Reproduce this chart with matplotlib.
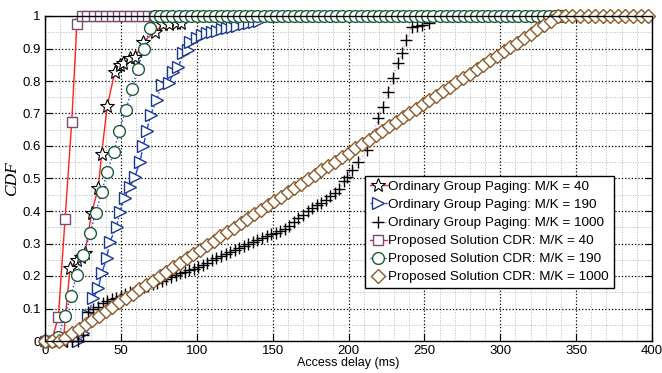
import matplotlib
matplotlib.use("Agg")
import matplotlib.pyplot as plt
from matplotlib.ticker import MultipleLocator, FuncFormatter

plt.rcParams['font.family'] = ['Liberation Sans', 'DejaVu Sans']

# Ordinary Group Paging, M/K = 40
ogp40_x = [12, 16.5, 20.9, 23.5, 26.4, 30.7, 35.1, 37.3, 41.0, 46.1, 49.4, 51.6, 56.0, 59.3,
           64.8, 72.5, 78.0, 82.0, 86.0, 89.5]
ogp40_y = [0.0, 0.224, 0.249, 0.26, 0.27, 0.395, 0.47, 0.575, 0.723, 0.829, 0.849, 0.854, 0.87,
           0.873, 0.921, 0.952, 0.975, 0.976, 0.977, 0.978]

# Ordinary Group Paging, M/K = 190
ogp190_x = [22, 25.3, 28.5, 31.8, 35.1, 37.3, 40.6, 42.8, 47.2, 49.4, 52.5, 56.0, 59.3, 62.6,
            64.8, 67.0, 69.6, 73.6, 76.9, 82.0, 84.6, 87.9, 91.2, 94.5, 95.6, 100.0, 103.7,
            107.0, 110.3, 113.6, 116.9, 120.2, 123.5, 126.8, 131.2, 134.5, 138.0, 141.0]
ogp190_y = [0.0, 0.024, 0.08, 0.131, 0.162, 0.208, 0.254, 0.306, 0.352, 0.398, 0.44, 0.475,
            0.506, 0.552, 0.601, 0.646, 0.695, 0.742, 0.788, 0.795, 0.829, 0.844, 0.885, 0.895,
            0.921, 0.932, 0.942, 0.948, 0.951, 0.954, 0.96, 0.963, 0.966, 0.969, 0.975, 0.978,
            0.981, 0.984]

# Ordinary Group Paging, M/K = 1000
ogp1000_x = [14.3, 17.6, 22.0, 25.3, 28.5, 31.8, 35.1, 38.4, 41, 44, 47, 50, 53, 56, 59, 62,
             65, 68, 71, 74, 77, 80, 83, 86, 89, 92, 95, 98, 101, 104, 107, 110, 113, 116, 119,
             122, 125, 128, 131, 134, 137, 140, 143, 146, 149, 152, 155, 158, 161, 164, 167,
             170, 173, 176, 179, 182, 185, 188, 191, 194, 197, 198.8, 202.2, 206.5, 212.0,
             215.3, 219.7, 223.0, 226.3, 229.3, 232.4, 235.3, 238.2, 242.0, 245.3, 248.5, 252.8]
ogp1000_y = [0, 0, 0, 0.018, 0.09, 0.1, 0.105, 0.116, 0.122, 0.128, 0.133, 0.139, 0.145, 0.150,
             0.155, 0.160, 0.165, 0.170, 0.175, 0.180, 0.185, 0.190, 0.198, 0.204, 0.208,
             0.212, 0.217, 0.222, 0.228, 0.234, 0.240, 0.248, 0.256, 0.262, 0.268, 0.274,
             0.280, 0.286, 0.292, 0.298, 0.305, 0.311, 0.316, 0.322, 0.328, 0.333, 0.337,
             0.346, 0.355, 0.366, 0.378, 0.388, 0.399, 0.408, 0.417, 0.425, 0.434, 0.445,
             0.455, 0.468, 0.492, 0.506, 0.526, 0.552, 0.588, 0.629, 0.685, 0.721, 0.767,
             0.808, 0.854, 0.885, 0.926, 0.967, 0.969, 0.972, 0.977]

# Proposed Solution CDR, M/K = 40
ps40_x = [0, 4.4, 8.8, 13.2, 17.6, 21.0, 24.2, 28, 32, 36, 40, 44, 48, 52, 56, 60, 64, 68, 72, 76]
ps40_y = [0, 0, 0.075, 0.374, 0.673, 0.975, 1, 1, 1, 1, 1, 1, 1, 1, 1, 1, 1, 1, 1, 1]

# Proposed Solution CDR, M/K = 190
ps190_x = [0, 4.4, 8.8, 13.2, 17.0, 20.9, 25.3, 29.7, 33.4, 37.3, 41.0, 45.5, 49.0, 53.2, 57.3,
           61.1, 65.2, 69.2, 72.5,
           76, 80, 84, 88, 92, 96, 100, 104, 108, 112, 116, 120, 124, 128, 132, 136, 140, 144,
           148, 152, 156, 160, 164, 168, 172, 176, 180, 184, 188, 192, 196, 200, 204, 208, 212,
           216, 220, 224, 228, 232, 236, 240, 244, 248, 252, 256, 260, 264, 268, 272, 276, 280,
           284, 288, 292, 296, 300, 304, 308, 312, 316, 320, 324, 328, 332, 336, 340]
ps190_y = [0, 0, 0.013, 0.077, 0.14, 0.203, 0.265, 0.331, 0.395, 0.457, 0.521, 0.583, 0.647,
           0.711, 0.774, 0.836, 0.898, 0.962, 1.0,
           1, 1, 1, 1, 1, 1, 1, 1, 1, 1, 1, 1, 1, 1, 1, 1, 1, 1, 1, 1, 1, 1, 1, 1, 1, 1, 1, 1,
           1, 1, 1, 1, 1, 1, 1, 1, 1, 1, 1, 1, 1, 1, 1, 1, 1, 1, 1, 1, 1, 1, 1, 1, 1, 1, 1, 1,
           1, 1, 1, 1, 1, 1, 1, 1, 1, 1, 1]

# Proposed Solution CDR, M/K = 1000
ps1000_x = [0, 4.4, 8.9, 13.3, 17.8, 22.2, 26.7, 31.1, 35.6, 40.0, 44.4, 48.9, 53.3, 57.8, 62.2,
            66.7, 71.1, 75.6, 80.0, 84.4, 88.9, 93.3, 97.8, 102.2, 106.7, 111.1, 115.6, 120.0,
            124.4, 128.9, 133.3, 137.8, 142.2, 146.7, 151.1, 155.6, 160.0, 164.4, 168.9, 173.3,
            177.8, 182.2, 186.7, 191.1, 195.6, 200.0, 204.4, 208.9, 213.3, 217.8, 222.2, 226.7,
            231.1, 235.6, 240.0, 244.4, 248.9, 253.3, 257.8, 262.2, 266.7, 271.1, 275.6, 280.0,
            284.4, 288.9, 293.3, 297.8, 302.2, 306.7, 311.1, 315.6, 320.0, 324.4, 328.9, 333.3,
            337.8, 342.5, 347.5, 352.5, 357.5, 362.5, 367.5, 372.5, 377.5, 382.5, 387.5, 392.5,
            397.5]
ps1000_y = [0, 0, 0, 0.010, 0.024, 0.037, 0.051, 0.064, 0.078, 0.091, 0.105, 0.119, 0.132,
            0.146, 0.159, 0.173, 0.186, 0.200, 0.213, 0.227, 0.241, 0.254, 0.268, 0.281, 0.295,
            0.308, 0.322, 0.335, 0.349, 0.362, 0.376, 0.390, 0.403, 0.417, 0.430, 0.444, 0.457,
            0.471, 0.484, 0.498, 0.512, 0.525, 0.539, 0.552, 0.566, 0.579, 0.593, 0.606, 0.620,
            0.634, 0.647, 0.661, 0.674, 0.688, 0.701, 0.715, 0.728, 0.742, 0.755, 0.769, 0.783,
            0.796, 0.810, 0.823, 0.837, 0.850, 0.864, 0.877, 0.891, 0.905, 0.918, 0.932, 0.945,
            0.959, 0.972, 0.986, 1.0, 1, 1, 1, 1, 1, 1, 1, 1, 1, 1, 1, 1]

labels = ["Ordinary Group Paging: M/K = 40", "Ordinary Group Paging: M/K = 190",
          "Ordinary Group Paging: M/K = 1000", "Proposed Solution CDR: M/K = 40",
          "Proposed Solution CDR: M/K = 190", "Proposed Solution CDR: M/K = 1000"]


fig = plt.figure(figsize=(6.62, 3.73), dpi=100)
ax = fig.add_axes([45/662, 32/373, 607/662, 325/373])

ax.plot(ogp40_x, ogp40_y, '-', color='#ff2020', lw=1, marker='*', ms=10, mec='black',
        mfc='white', mew=0.8, clip_on=False, label=labels[0])
ax.plot(ogp190_x, ogp190_y, '-.', color='#2040ff', lw=1, marker='>', ms=9, mec='#1c3a8c',
        mfc='white', mew=1, clip_on=False, label=labels[1])
ax.plot(ogp1000_x, ogp1000_y, ':', color='#ee99ee', lw=1, marker='+', ms=9, mec='black',
        mew=1, clip_on=False, label=labels[2])
ax.plot(ps40_x, ps40_y, '-', color='#ff2020', lw=1, marker='s', ms=6.5, mec='#7a4a74',
        mfc='white', mew=1, clip_on=False, label=labels[3])
ax.plot(ps190_x, ps190_y, ':', color='#2040ff', lw=1, marker='o', ms=8.5, mec='#1f5a3a',
        mfc='white', mew=1, clip_on=False, label=labels[4])
ax.plot(ps1000_x, ps1000_y, ':', color='#ee88dd', lw=1, marker='D', ms=7, mec='#8b5a2b',
        mfc='white', mew=1, clip_on=False, label=labels[5])

ax.set_xlim(0, 400)
ax.set_ylim(0, 1)
ax.xaxis.set_major_locator(MultipleLocator(50))
ax.yaxis.set_major_locator(MultipleLocator(0.1))
ax.xaxis.set_minor_locator(MultipleLocator(10))
ax.yaxis.set_minor_locator(MultipleLocator(0.05))
ax.yaxis.set_major_formatter(FuncFormatter(lambda v, p: '%g' % round(v, 2)))

ax.grid(True, which='major', linestyle=':', color='black', lw=0.9)
ax.grid(True, which='minor', linestyle=':', color='#b8b8b8', lw=0.7)
ax.set_axisbelow(True)

ax.tick_params(which='major', direction='in', length=5, top=True, right=True,
               labelsize=9.5, pad=3)
ax.tick_params(which='minor', length=0)
for s in ax.spines.values():
    s.set_linewidth(1)

ax.set_xlabel("Access delay (ms)", fontsize=9, labelpad=0)
ax.set_ylabel("CDF", fontsize=12.5, family='Liberation Serif', style='italic', labelpad=2)

leg = ax.legend(loc='upper left', bbox_to_anchor=(0.527, 0.508), borderaxespad=0,
                fontsize=9.7, numpoints=1, handlelength=1.3, handletextpad=0.1,
                labelspacing=0.42, borderpad=0.35, fancybox=False, framealpha=1)
leg.get_frame().set_edgecolor('black')
leg.get_frame().set_linewidth(1)

fig.savefig("out.png", dpi=100)
